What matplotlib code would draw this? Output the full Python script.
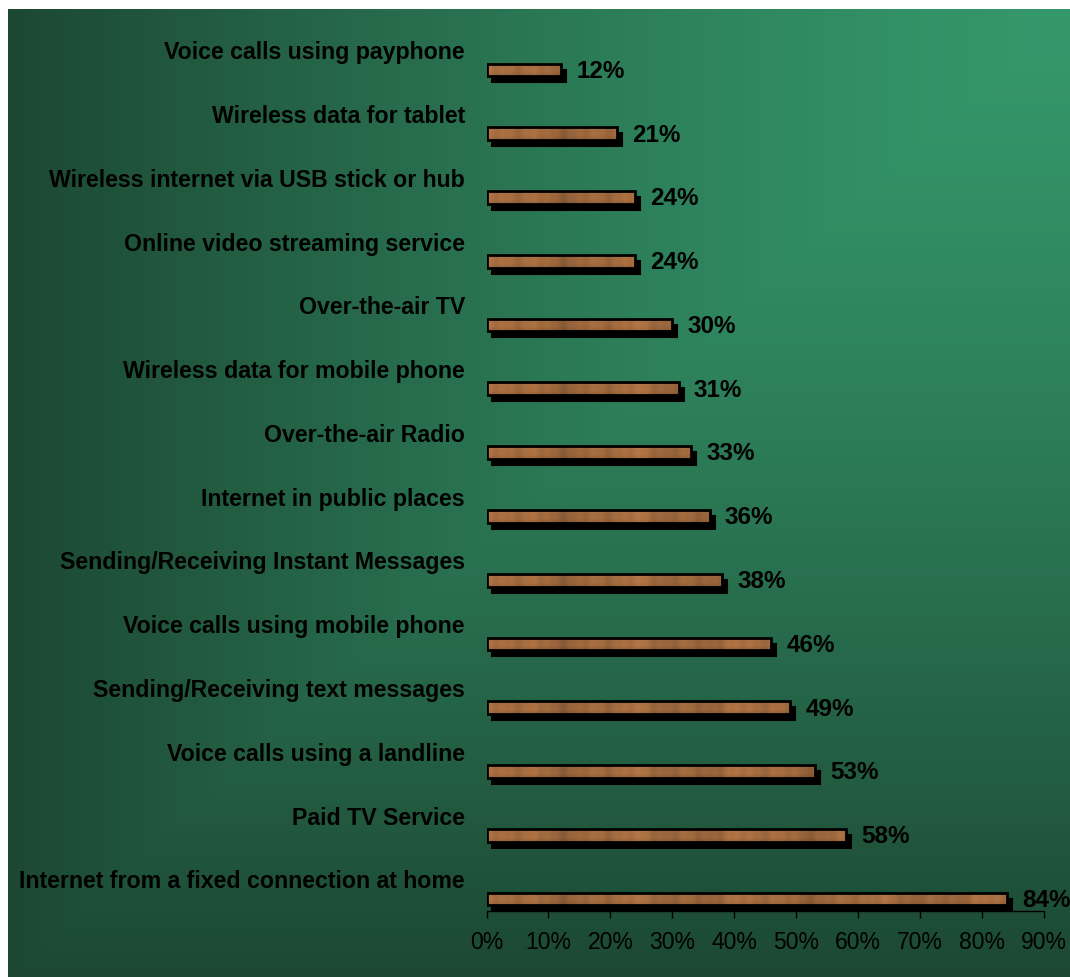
import matplotlib
matplotlib.use("Agg")
import matplotlib.pyplot as plt
import matplotlib.transforms as mtransforms
import numpy as np

plt.rcParams["font.family"] = ["Liberation Sans", "DejaVu Sans"]

# ── Data (top to bottom) ───────────────────────────────
services = [
    "Voice calls using payphone",
    "Wireless data for tablet",
    "Wireless internet via USB stick or hub",
    "Online video streaming service",
    "Over-the-air TV",
    "Wireless data for mobile phone",
    "Over-the-air Radio",
    "Internet in public places",
    "Sending/Receiving Instant Messages",
    "Voice calls using mobile phone",
    "Sending/Receiving text messages",
    "Voice calls using a landline",
    "Paid TV Service",
    "Internet from a fixed connection at home",
]
shares = [12, 21, 24, 24, 30, 31, 33, 36, 38, 46, 49, 53, 58, 84]
x_ticks = [0, 10, 20, 30, 40, 50, 60, 70, 80, 90]

# ── Colors ─────────────────────────────────────────────
BG_DARK = np.array([0x1c, 0x48, 0x33]) / 255
BG_LIGHT = np.array([0x35, 0x98, 0x6b]) / 255
WOOD = np.array([170, 112, 66]) / 255

W, H = 1070, 977
fig = plt.figure(figsize=(W / 100, H / 100), dpi=100)
fig.patch.set_facecolor("white")

# ── Background: rectangular gradient from top-right corner
bg = fig.add_axes([8 / W, 0, 1 - 8 / W, 1 - 9 / H], zorder=0)
gx = np.linspace(0, 1, 400)
gy = np.linspace(0, 1, 400)
GX, GY = np.meshgrid(gx, gy)
t = np.maximum(1 - GX, GY) ** 1.3
grad = BG_LIGHT[None, None, :] * (1 - t[..., None]) + BG_DARK[None, None, :] * t[..., None]
bg.imshow(grad, extent=(0, 1, 0, 1), aspect="auto", origin="upper")
bg.set_axis_off()

# ── Main axes ──────────────────────────────────────────
ax = fig.add_axes([486.5 / W, 66 / H, (1044 - 486.5) / W, (911 - 9) / H], zorder=1)
ax.patch.set_alpha(0)

n = len(services)
ypos = np.arange(n)[::-1]          # first item on top
bar_h = 0.2

# shadow offset a few pixels right and down
shadow_tr = ax.transData + mtransforms.ScaledTranslation(5 / 100, -6 / 100, fig.dpi_scale_trans)
ax.barh(ypos, shares, height=bar_h, color="black", edgecolor="black",
        linewidth=1.5, transform=shadow_tr, zorder=2)

faces = ax.barh(ypos, shares, height=bar_h, color=WOOD, edgecolor="none", zorder=3)

# mottled wood grain for the bar faces
tx = np.linspace(0, 1, 900)
ty = np.linspace(-1, 1, 14)
TX, TY = np.meshgrid(tx, ty)
shade = (0.95 + 0.05 * np.sin(TX * 29 + 0.4) + 0.04 * np.sin(TX * 71 + 1.3)
         + 0.03 * np.sin(TX * 157 + 2.1) + 0.02 * np.sin(TX * 311)
         - 0.12 * TY ** 2 + 0.05 * (TY < -0.45))
wood = np.clip(WOOD[None, None, :] * shade[..., None], 0, 1)

for rect, y in zip(faces, ypos):
    im = ax.imshow(wood, extent=(0, 90, y - bar_h / 2, y + bar_h / 2),
                   aspect="auto", zorder=3, interpolation="bilinear")
    im.set_clip_path(rect)

ax.barh(ypos, shares, height=bar_h, fill=False, edgecolor="black",
        linewidth=2.0, zorder=4)

# value labels
for y, v in zip(ypos, shares):
    ax.annotate(f"{v}%", xy=(v, y), xytext=(11, -1), textcoords="offset points",
                ha="left", va="center", fontsize=17.5, fontweight="bold",
                color="black", zorder=5, annotation_clip=False)

# category labels sit above their bars, right aligned
lbl_tr = mtransforms.blended_transform_factory(ax.transAxes, ax.transData)
for y, name in zip(ypos, services):
    ax.text(-0.0386, y + 0.168, name, transform=lbl_tr, ha="right",
            va="baseline", fontsize=16.7, fontweight="bold", color="black")

# ── Axes ───────────────────────────────────────────────
ax.set_xlim(0, 90)
ax.set_ylim(-0.188, n - 1 + 0.956)
ax.set_xticks(x_ticks)
ax.set_xticklabels([f"{v}%" for v in x_ticks], fontsize=16.5, color="black")
ax.tick_params(axis="x", direction="out", length=5, width=1, colors="black", pad=9.5)
ax.set_yticks([])
for s in ["top", "right", "left"]:
    ax.spines[s].set_visible(False)
ax.spines["bottom"].set_color("black")
ax.spines["bottom"].set_linewidth(1)

fig.savefig("out.png", dpi=100)
